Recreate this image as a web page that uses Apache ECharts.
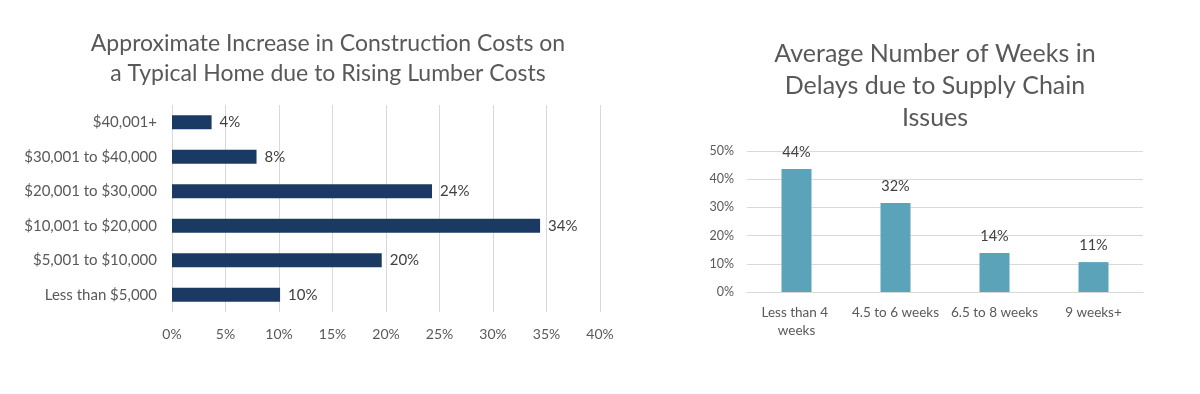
<!DOCTYPE html>
<html>
<head>
<meta charset="utf-8">
<script src="https://cdn.jsdelivr.net/npm/echarts@6/dist/echarts.min.js"></script>
<style>
html,body{margin:0;padding:0;background:#fff;}
#main{width:1200px;height:394px;}
</style>
</head>
<body>
<div id="main"></div>
<script>
// Left chart: approximate increase in construction costs (share of builders)
const costCategories = ['Less than $5,000', '$5,001 to $10,000', '$10,001 to $20,000', '$20,001 to $30,000', '$30,001 to $40,000', '$40,001+'];
const costValues = [10.1, 19.6, 34.4, 24.3, 7.9, 3.7];
const costTicks = [0, 5, 10, 15, 20, 25, 30, 35, 40];

// Right chart: average number of weeks in delays
const delayCategories = ['Less than 4 weeks', '4.5 to 6 weeks', '6.5 to 8 weeks', '9 weeks+'];
const delayValues = [43.6, 31.6, 13.8, 10.6];
const delayTicks = [0, 10, 20, 30, 40, 50];

const FONT = 'Lato';
const TXT = '#595959';

const chart = echarts.init(document.getElementById('main'));
chart.setOption({
  backgroundColor: '#ffffff',
  animation: false,
  title: [
    {
      text: 'Approximate Increase in Construction Costs on\na Typical Home due to Rising Lumber Costs',
      left: 323, top: 24, textAlign: 'center',
      textStyle: {fontFamily: FONT, fontSize: 23, fontWeight: 'normal', color: TXT, lineHeight: 30}
    },
    {
      text: 'Average Number of Weeks in\nDelays due to Supply Chain\nIssues',
      left: 930, top: 33, textAlign: 'center',
      textStyle: {fontFamily: FONT, fontSize: 25, fontWeight: 'normal', color: TXT, lineHeight: 32}
    }
  ],
  grid: [
    {left: 172, right: 600, top: 105, bottom: 82},
    {left: 747, right: 57, top: 151, bottom: 102}
  ],
  xAxis: [
    {
      gridIndex: 0, type: 'value', min: costTicks[0], max: costTicks[costTicks.length - 1], interval: 5,
      axisLine: {show: false}, axisTick: {show: false},
      splitLine: {show: true, lineStyle: {color: '#d9d9d9', width: 1}},
      axisLabel: {formatter: v => v + '%', margin: 15, fontFamily: FONT, fontSize: 14, color: TXT}
    },
    {
      gridIndex: 1, type: 'category', data: delayCategories,
      axisLine: {show: true, lineStyle: {color: '#d9d9d9'}}, axisTick: {show: false},
      axisLabel: {interval: 0, margin: 12, width: 96, overflow: 'break', fontFamily: FONT, fontSize: 13.5, color: TXT, lineHeight: 18}
    }
  ],
  yAxis: [
    {
      gridIndex: 0, type: 'category', data: costCategories,
      axisLine: {show: false}, axisTick: {show: false},
      axisLabel: {margin: 15, fontFamily: FONT, fontSize: 15, color: TXT}
    },
    {
      gridIndex: 1, type: 'value', min: delayTicks[0], max: delayTicks[delayTicks.length - 1], interval: 10,
      axisLine: {show: false}, axisTick: {show: false},
      splitLine: {show: true, lineStyle: {color: '#d9d9d9', width: 1}},
      axisLabel: {formatter: v => v + '%', margin: 13, fontFamily: FONT, fontSize: 12.5, color: TXT}
    }
  ],
  series: [
    {
      type: 'bar', xAxisIndex: 0, yAxisIndex: 0, data: costValues,
      barWidth: 14,
      itemStyle: {color: '#1b3a63'},
      label: {show: true, position: 'right', distance: 8, formatter: p => Math.round(p.value) + '%',
        fontFamily: FONT, fontSize: 15, color: '#404040'}
    },
    {
      type: 'bar', xAxisIndex: 1, yAxisIndex: 1, data: delayValues,
      barWidth: 30,
      itemStyle: {color: '#5ba3b9'},
      label: {show: true, position: 'top', distance: 9, formatter: p => Math.round(p.value) + '%',
        fontFamily: FONT, fontSize: 14.5, color: '#404040'}
    }
  ]
});
</script>
</body>
</html>
